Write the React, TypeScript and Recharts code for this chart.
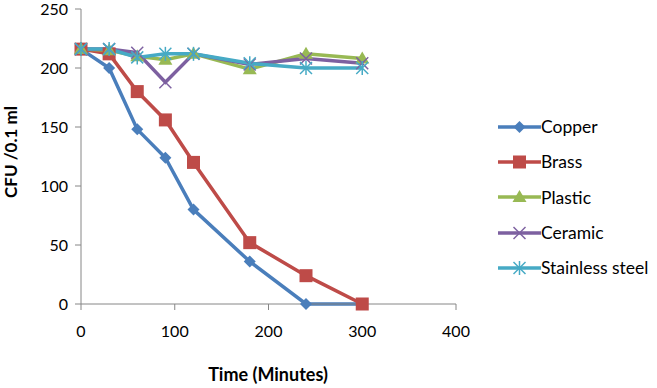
import { LineChart, Line, XAxis, YAxis } from 'recharts';

const times = [0, 30, 60, 90, 120, 180, 240, 300];
const copper = [216, 200, 148, 124, 80, 36, 0, 0];
const brass = [216, 212, 180, 156, 120, 52, 24, 0];
const plastic = [216, 215, 210, 207, 212, 199, 212, 208];
const ceramic = [216, 216, 213, 188, 212, 203, 208, 204];
const stainless = [216, 216, 209, 212, 212, 204, 200, 200];

const xTicks = [0, 100, 200, 300, 400];
const yTicks = [0, 50, 100, 150, 200, 250];

type Shape = 'diamond' | 'square' | 'triangle' | 'x' | 'star';

const SERIES: { key: string; label: string; color: string; shape: Shape; values: number[] }[] = [
  { key: 'copper', label: 'Copper', color: '#4a7ebb', shape: 'diamond', values: copper },
  { key: 'brass', label: 'Brass', color: '#be4b48', shape: 'square', values: brass },
  { key: 'plastic', label: 'Plastic', color: '#98b954', shape: 'triangle', values: plastic },
  { key: 'ceramic', label: 'Ceramic', color: '#7d60a0', shape: 'x', values: ceramic },
  { key: 'stainless', label: 'Stainless steel', color: '#46aac5', shape: 'star', values: stainless },
];

const data = times.map((t, i) => {
  const row: Record<string, number> = { time: t };
  SERIES.forEach((s) => { row[s.key] = s.values[i]; });
  return row;
});

const FONT = 'Lato, "Open Sans", sans-serif';

function Marker({ cx, cy, shape, color }: { cx: number; cy: number; shape: Shape; color: string }) {
  switch (shape) {
    case 'diamond':
      return <polygon points={`${cx},${cy - 6} ${cx + 6},${cy} ${cx},${cy + 6} ${cx - 6},${cy}`} fill={color} />;
    case 'square':
      return <rect x={cx - 6.5} y={cy - 6.5} width={13} height={13} fill={color} />;
    case 'triangle':
      return <polygon points={`${cx},${cy - 7} ${cx + 7},${cy + 5} ${cx - 7},${cy + 5}`} fill={color} />;
    case 'x':
      return (
        <g stroke={color} strokeWidth={1.5}>
          <line x1={cx - 6} y1={cy - 6} x2={cx + 6} y2={cy + 6} />
          <line x1={cx - 6} y1={cy + 6} x2={cx + 6} y2={cy - 6} />
        </g>
      );
    default:
      return (
        <g stroke={color} strokeWidth={1.5}>
          <line x1={cx - 6} y1={cy - 6} x2={cx + 6} y2={cy + 6} />
          <line x1={cx - 6} y1={cy + 6} x2={cx + 6} y2={cy - 6} />
          <line x1={cx} y1={cy - 7} x2={cx} y2={cy + 7} />
        </g>
      );
  }
}

export default function App() {
  return (
    <div style={{ position: 'relative', width: 657, height: 388, fontFamily: FONT }}>
      <style>{'body{margin:0}'}</style>
      <LineChart width={657} height={388} data={data} margin={{ top: 9, right: 201, left: 0, bottom: 0 }}>
        <XAxis
          dataKey="time"
          type="number"
          domain={[0, 400]}
          ticks={xTicks}
          stroke="#868686"
          tickSize={6}
          tickMargin={16}
          height={84}
          tick={{ fill: '#000', fontSize: 16, fontFamily: FONT }}
          label={{
            content: () => (
              <text x={268} y={381} textAnchor="middle" fill="#000" fontSize={18} fontWeight="bold" fontFamily={FONT}>
                Time (Minutes)
              </text>
            ),
          }}
        />
        <YAxis
          type="number"
          domain={[0, 250]}
          ticks={yTicks}
          stroke="#868686"
          tickSize={6}
          tickMargin={7}
          width={81}
          tick={{ fill: '#000', fontSize: 16, fontFamily: FONT }}
          label={{
            content: () => (
              <text x={17} y={152} transform="rotate(-90 17 152)" textAnchor="middle" fill="#000" fontSize={17} fontWeight="bold" fontFamily={FONT}>
                CFU /0.1 ml
              </text>
            ),
          }}
        />
        {SERIES.map((s) => (
          <Line
            key={s.key}
            dataKey={s.key}
            name={s.label}
            stroke={s.color}
            strokeWidth={3.5}
            type="linear"
            isAnimationActive={false}
            dot={(p: any) => <Marker key={`${s.key}-${p.index}`} cx={p.cx} cy={p.cy} shape={s.shape} color={s.color} />}
            activeDot={false}
          />
        ))}
      </LineChart>
      <div style={{ position: 'absolute', left: 498, top: 109 }}>
        {SERIES.map((s) => (
          <div key={s.key} style={{ display: 'flex', alignItems: 'center', height: 35.3, fontSize: 17.5, color: '#000' }}>
            <svg width={43} height={16}>
              <line x1={0} y1={8} x2={43} y2={8} stroke={s.color} strokeWidth={3.5} />
              <Marker cx={21.5} cy={8} shape={s.shape} color={s.color} />
            </svg>
            <span style={{ whiteSpace: 'nowrap' }}>{s.label}</span>
          </div>
        ))}
      </div>
    </div>
  );
}
